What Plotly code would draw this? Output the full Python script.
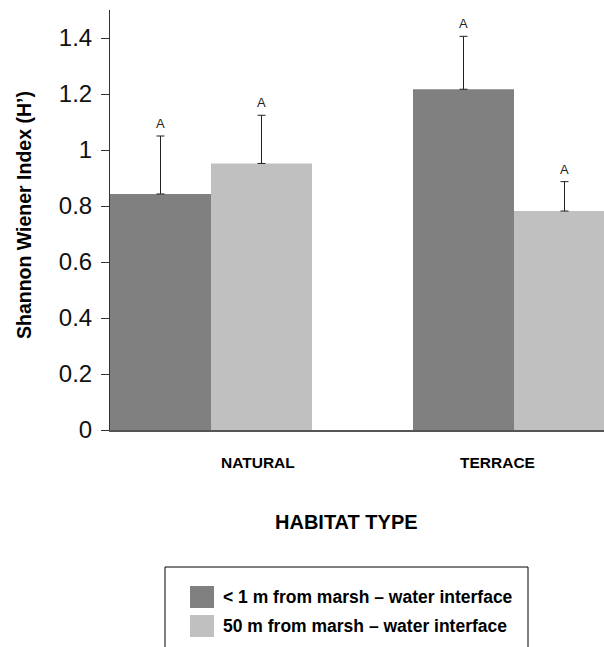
import plotly.graph_objects as go

categories = ["NATURAL", "TERRACE"]
series_names = ["< 1 m from marsh – water interface", "50 m from marsh – water interface"]
near_values = [0.843, 1.217]
near_err = [0.207, 0.189]
far_values = [0.952, 0.782]
far_err = [0.172, 0.105]
sig_near = ["A", "A"]
sig_far = ["A", "A"]
y_ticks = [0, 0.2, 0.4, 0.6, 0.8, 1.0, 1.2, 1.4]
y_ticktext = ["0", "0.2", "0.4", "0.6", "0.8", "1", "1.2", "1.4"]

FONT = "Liberation Sans, Arial, sans-serif"
W, H = 604, 647
ML, MR, MT, MB = 110, 0, 10, 217
BW = 1 / 3
xpos = list(range(len(categories)))

fig = go.Figure()
fig.add_trace(go.Bar(
    x=xpos, y=near_values, width=BW, offset=-BW, name=series_names[0],
    marker=dict(color="#808080", line=dict(width=0)),
    error_y=dict(type="data", array=near_err, arrayminus=[0] * len(near_err),
                 symmetric=False, color="#222222", thickness=1, width=4),
    showlegend=False))
fig.add_trace(go.Bar(
    x=xpos, y=far_values, width=BW, offset=0, name=series_names[1],
    marker=dict(color="#c0c0c0", line=dict(width=0)),
    error_y=dict(type="data", array=far_err, arrayminus=[0] * len(far_err),
                 symmetric=False, color="#222222", thickness=1, width=4),
    showlegend=False))

ann = []
for i in xpos:
    ann.append(dict(x=i - BW / 2, y=near_values[i] + near_err[i], xref="x", yref="y",
                    text=sig_near[i], showarrow=False, yanchor="bottom", yshift=3,
                    font=dict(family=FONT, size=13, color="#222")))
    ann.append(dict(x=i + BW / 2, y=far_values[i] + far_err[i], xref="x", yref="y",
                    text=sig_far[i], showarrow=False, yanchor="bottom", yshift=3,
                    font=dict(family=FONT, size=13, color="#222")))
# category labels (offset as in the original)
label_x = [0.155, 0.947]
for i, c in enumerate(categories):
    ann.append(dict(x=label_x[i], y=0, xref="x", yref="y", text=f"<b>{c}</b>",
                    showarrow=False, yanchor="middle", yshift=-32,
                    font=dict(family=FONT, size=15.5, color="#000")))

pw = W - ML - MR
ph = H - MT - MB
def px(x):
    return (x - ML) / pw
def py(y):
    return (H - MB - y) / ph

ann.append(dict(x=px(346), y=py(522), xref="paper", yref="paper", text="<b>HABITAT TYPE</b>",
                showarrow=False, xanchor="center", yanchor="middle",
                font=dict(family=FONT, size=20, color="#000")))
ann.append(dict(x=px(24), y=py(215), xref="paper", yref="paper",
                text="<b>Shannon Wiener Index (H’)</b>", textangle=-90,
                showarrow=False, xanchor="center", yanchor="middle",
                font=dict(family=FONT, size=19.5, color="#000")))

shapes = [
    dict(type="rect", xref="paper", yref="paper", x0=px(165), x1=px(528), y0=py(567), y1=py(700),
         line=dict(color="#000", width=1), fillcolor="rgba(0,0,0,0)"),
    dict(type="rect", xref="paper", yref="paper", x0=px(190), x1=px(214), y0=py(586), y1=py(608),
         line=dict(width=0), fillcolor="#808080"),
    dict(type="rect", xref="paper", yref="paper", x0=px(190), x1=px(214), y0=py(615), y1=py(637),
         line=dict(width=0), fillcolor="#c0c0c0"),
]
ann.append(dict(x=px(221), y=py(597), xref="paper", yref="paper", text=f"<b>{series_names[0]}</b>",
                showarrow=False, xanchor="left", yanchor="middle",
                font=dict(family=FONT, size=17.5, color="#000")))
ann.append(dict(x=px(221), y=py(626), xref="paper", yref="paper", text=f"<b>{series_names[1]}</b>",
                showarrow=False, xanchor="left", yanchor="middle",
                font=dict(family=FONT, size=17.5, color="#000")))

x_right = (W - 211) / 303
fig.update_layout(
    width=W, height=H,
    margin=dict(l=ML, r=MR, t=MT, b=MB, pad=0),
    paper_bgcolor="white", plot_bgcolor="white",
    barmode="overlay",
    annotations=ann, shapes=shapes,
    xaxis=dict(range=[-BW, x_right], showticklabels=False, ticks="", showgrid=False,
               zeroline=False, showline=True, linecolor="#555", linewidth=2),
    yaxis=dict(range=[0, 1.5], tickvals=y_ticks, ticktext=y_ticktext, ticks="outside",
               ticklen=8, tickcolor="#333", showgrid=False, zeroline=False,
               showline=True, linecolor="#333", linewidth=1, ticklabelstandoff=4,
               tickfont=dict(family=FONT, size=24, color="#111")),
    font=dict(family=FONT),
)
fig.write_html("out.html", config={"displayModeBar": False},
               post_script="document.body.style.margin='0';document.body.style.overflow='hidden';")
